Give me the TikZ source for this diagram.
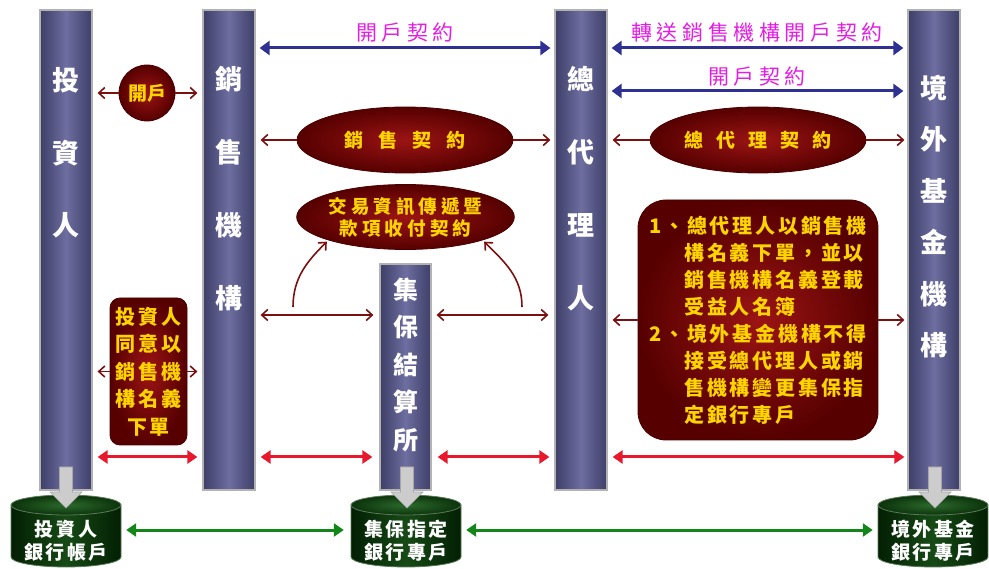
\documentclass[tikz,border=0pt]{standalone}
\usepackage{fontspec}
\newfontfamily\cjk{Noto Sans CJK TC}
\newfontfamily\cjkls{Noto Sans CJK TC}[LetterSpace=14]
\newfontfamily\cjkwd{Noto Sans CJK TC}[LetterSpace=22]
\usetikzlibrary{arrows.meta,shapes.geometric}
\definecolor{pilD}{HTML}{3E3E68}
\definecolor{pilL}{HTML}{6E6EA0}
\definecolor{dred}{HTML}{7A1010}
\definecolor{ellIn}{HTML}{9C1414}
\definecolor{ellOut}{HTML}{560000}
\definecolor{ellE}{HTML}{4A0000}
\definecolor{gold}{HTML}{FFD400}
\definecolor{navy}{HTML}{2E3192}
\definecolor{mag}{HTML}{E21EE2}
\definecolor{bred}{HTML}{E8192C}
\definecolor{grn}{HTML}{13861A}
\definecolor{cylD}{HTML}{031F03}
\definecolor{cylM}{HTML}{164A16}
\definecolor{cylL}{HTML}{2C6A2C}
\definecolor{cylT}{HTML}{0C330C}
\definecolor{cylE}{HTML}{5A7A5A}
\newcommand{\cylshape}[1]{%
  \path[left color=cylD,right color=cylD,middle color=cylM,draw=cylE,line width=0.8pt]
    (#1-55,505) -- (#1-55,557) arc[start angle=180,end angle=360,x radius=55pt,y radius=10pt] -- (#1+55,505) -- cycle;
  \path[inner color=cylL,outer color=cylT,draw=cylE,line width=0.8pt]
    (#1,505) ellipse[x radius=55pt,y radius=10pt];}
\newcommand{\garrow}[1]{%
  \filldraw[fill=gray!40,draw=gray!70,line width=0.6pt]
    (#1-6.5,467) -- (#1+6.5,467) -- (#1+6.5,492) -- (#1+16,492) -- (#1,508) -- (#1-16,492) -- (#1-6.5,492) -- cycle;}
\begin{document}
\begin{tikzpicture}[x=1pt,y=-1pt,
  pillar/.style={draw=gray!60,line width=1.2pt,left color=pilD,right color=pilD,middle color=pilL,minimum width=52pt,inner sep=0pt},
  ptext/.style={text=white,align=center,inner sep=0pt},
  ell/.style={ellipse,draw=ellE,line width=0.8pt,inner color=ellIn,outer color=ellOut,minimum width=216pt,minimum height=66pt,inner sep=0pt,text=gold,align=center},
  rbox/.style={draw=ellE,line width=0.8pt,inner color=ellIn,outer color=ellOut,inner sep=0pt,text=gold},
  mlab/.style={text=mag,inner sep=0pt,font=\cjkwd\fontsize{21}{24}\selectfont},
  ctext/.style={text=white,align=center,inner sep=0pt,minimum width=110pt,minimum height=52pt,font=\cjkls\bfseries\fontsize{19}{23}\selectfont},
  blueA/.style={draw=navy,line width=3pt,arrows={Triangle[length=10pt,width=14pt]-Triangle[length=10pt,width=14pt]},shorten <=4pt,shorten >=4pt},
  redA/.style={draw=bred,line width=3pt,arrows={Triangle[length=10pt,width=13pt]-Triangle[length=10pt,width=13pt]},shorten <=5pt,shorten >=5pt},
  grnA/.style={draw=grn,line width=3pt,arrows={Triangle[length=10pt,width=13pt]-Triangle[length=10pt,width=13pt]},shorten <=5pt,shorten >=5pt},
  drA/.style={draw=dred,line width=1.6pt,arrows={-Straight Barb[length=6pt,width=11pt]},shorten >=5pt},
  drAA/.style={draw=dred,line width=1.6pt,arrows={Straight Barb[length=6pt,width=11pt]-Straight Barb[length=6pt,width=11pt]},shorten <=5pt,shorten >=6pt}
]
\useasboundingbox (0,0) rectangle (989,569);
\coordinate (ya) at (0,48);
\coordinate (yb) at (0,91);
\coordinate (yc) at (0,315);
\coordinate (yd) at (0,457);
\coordinate (yg) at (0,530);

% pillars
\node[pillar,minimum height=480pt] (inv) at (66,250) {};
\node[pillar,minimum height=480pt] (sell) at (229,250) {};
\node[pillar,minimum height=480pt] (agent) at (581,250) {};
\node[pillar,minimum height=480pt] (fund) at (934,250) {};
\node[pillar,minimum height=226pt,minimum width=51pt] (tdcc) at (405.5,377) {};
\node[ptext,font=\cjk\bfseries\fontsize{27}{72.5}\selectfont] (invt) at (66,153) {投\\資\\人};
\node[ptext,font=\cjk\bfseries\fontsize{27}{73}\selectfont] (sellt) at (229,189) {銷\\售\\機\\構};
\node[ptext,font=\cjk\bfseries\fontsize{27}{73}\selectfont] (agentt) at (581,189) {總\\代\\理\\人};
\node[ptext,font=\cjk\bfseries\fontsize{27}{51.5}\selectfont] (fundt) at (934,216.5) {境\\外\\基\\金\\機\\構};
\node[ptext,font=\cjk\bfseries\fontsize{25}{37.5}\selectfont] (tdcct) at (405.5,365) {集\\保\\結\\算\\所};

% top blue arrows and labels
\node[mlab] (l1) at (405,33) {開戶契約};
\node[mlab] (l2) at (757,33) {轉送銷售機構開戶契約};
\node[mlab] (l3) at (757,77) {開戶契約};
\draw[blueA] (sell.east |- ya) -- (agent.west |- ya);
\draw[blueA] (agent.east |- ya) -- (fund.west |- ya);
\draw[blueA] (agent.east |- yb) -- (fund.west |- yb);

% open account circle
\node[rbox,circle,minimum size=56pt,font=\cjk\bfseries\fontsize{19}{22}\selectfont] (open) at (147,93) {開戶};
\draw[drA] (open) -- (inv.east |- open);
\draw[drA] (open) -- (sell.west |- open);

% contract ellipses
\node[ell,font=\cjk\bfseries\fontsize{19}{22}\selectfont] (sc) at (405,140) {銷\hspace{15pt}售\hspace{15pt}契\hspace{15pt}約};
\draw[drA,shorten >=4pt] (sc) -- (agent.west |- sc);
\draw[drA] (sc) -- (sell.east |- sc);
\node[ell,font=\cjk\bfseries\fontsize{19}{22}\selectfont] (ac) at (758,140) {總\hspace{13pt}代\hspace{13pt}理\hspace{13pt}契\hspace{13pt}約};
\draw[drA] (ac) -- (agent.east |- ac);
\draw[drA,shorten >=3pt] (ac) -- (fund.west |- ac);
\node[ell,minimum width=215pt,minimum height=65pt,font=\cjkwd\bfseries\fontsize{18.5}{22}\selectfont] (tc) at (405.5,217) {交易資訊傳遞暨\\款項收付契約};

% TDCC links
\draw[drAA] (sell.east |- yc) -- (tdcc.west |- yc);
\draw[drAA] (tdcc.east |- yc) -- (agent.west |- yc);
\coordinate (c1) at (293,307);
\coordinate (c2) at (522,307);
\draw[drA,shorten >=2pt] (c1) to[out=90,in=-135] (tc.south west);
\draw[drA,shorten >=2pt] (c2) to[out=90,in=-45] (tc.south east);

% right rule box
\node[rbox,rounded corners=28pt,minimum width=240pt,minimum height=240pt,align=left,
      font=\cjkls\bfseries\fontsize{20}{27}\selectfont] (rb) at (758,320)
 {1、總代理人以銷售機\\
  \hphantom{1、}構名義下單，並以\\
  \hphantom{1、}銷售機構名義登載\\
  \hphantom{1、}受益人名簿\\
  2、境外基金機構不得\\
  \hphantom{2、}接受總代理人或銷\\
  \hphantom{2、}售機構變更集保指\\
  \hphantom{2、}定銀行專戶};
\draw[drA] (rb) -- (agent.east |- rb);
\draw[drA,shorten >=3pt] (rb) -- (fund.west |- rb);

% left box
\node[rbox,rounded corners=10pt,minimum width=77pt,minimum height=147pt,align=center,
      font=\cjkls\bfseries\fontsize{20}{27.5}\selectfont] (lb) at (148.5,371.5)
 {投資人\\同意以\\銷售機\\構名義\\下單};
\draw[drA] (lb) -- (inv.east |- lb);
\draw[drA] (lb) -- (sell.west |- lb);

% red money-flow arrows
\draw[redA] (inv.east |- yd) -- (sell.west |- yd);
\draw[redA,shorten >=7pt] (sell.east |- yd) -- (tdcc.west |- yd);
\draw[redA,shorten <=6pt] (tdcc.east |- yd) -- (agent.west |- yd);
\draw[redA,shorten >=3pt] (agent.east |- yd) -- (fund.west |- yd);

% bank cylinders
\cylshape{66}
\cylshape{406}
\cylshape{933}
\node[ctext] (ib) at (66,541) {投資人\\銀行帳戶};
\node[ctext] (tb) at (406,541) {集保指定\\銀行專戶};
\node[ctext] (fb) at (933,541) {境外基金\\銀行專戶};
\garrow{66}
\garrow{407}
\garrow{935}
\draw[grnA,shorten >=7pt] (ib.east |- yg) -- (tb.west |- yg);
\draw[grnA] (tb.east |- yg) -- (fb.west |- yg);
\end{tikzpicture}
\end{document}
